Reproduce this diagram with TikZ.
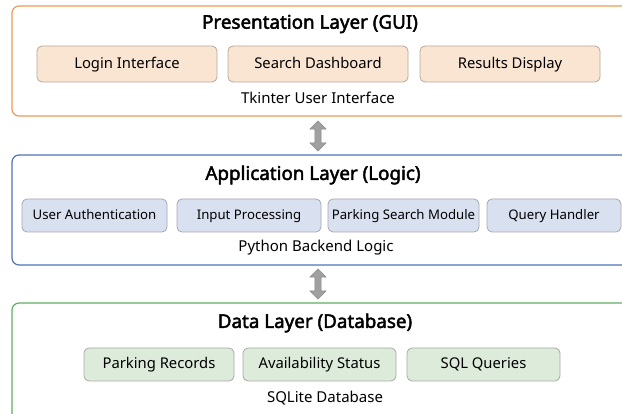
\documentclass[tikz,border=0pt]{standalone}
\usepackage{fontspec}
\setmainfont{Noto Sans}[BoldFont={Noto Sans}, BoldFeatures={FakeBold=2.4}]
\usetikzlibrary{shapes.arrows}

\definecolor{presline}{HTML}{EE9A57}
\definecolor{presfill}{HTML}{FAE5D3}
\definecolor{presedge}{HTML}{B8A89A}
\definecolor{appline}{HTML}{4F74B8}
\definecolor{appfill}{HTML}{D9E0F0}
\definecolor{appedge}{HTML}{A2A8B4}
\definecolor{dataline}{HTML}{62AE62}
\definecolor{datafill}{HTML}{DDEBDB}
\definecolor{dataedge}{HTML}{A4ADA2}
\definecolor{arrowgray}{HTML}{A0A0A0}

\tikzset{
  layer/.style={draw, line width=1.2pt, fill=white, rounded corners=7pt,
    minimum height=110pt, inner sep=0pt},
  comp/.style={draw, line width=0.8pt, rounded corners=5pt, inner sep=0pt,
    text height=0.85em, text depth=0em,
    font=\fontsize{14.8}{17}\selectfont},
  ltitle/.style={font=\fontsize{18.8}{21}\selectfont\bfseries},
  caption/.style={font=\fontsize{15}{17}\selectfont},
  linkarrow/.style={double arrow, rotate=90, fill=arrowgray, draw=arrowgray!85!black,
    line width=0.5pt, minimum height=30pt, inner sep=2.8pt,
    double arrow head extend=5pt, double arrow tip angle=90},
}

\begin{document}
\begin{tikzpicture}[x=1pt, y=-1pt]
\clip (0,0) rectangle (622,414);
\fill[white] (0,0) rectangle (622,414);

% Presentation layer
\node[layer, draw=presline, minimum width=628pt] (pres) at (326,61) {};
\node[ltitle] (prestitle) at (310,24) {Presentation Layer (GUI)};
\tikzset{pcomp/.style={comp, fill=presfill, draw=presedge, minimum width=180pt, minimum height=36pt}}
\node[pcomp] (login) at (127,64) {Login Interface};
\node[pcomp] (search) at (318,64) {Search Dashboard};
\node[pcomp] (results) at (510,64) {Results Display};
\node[caption] (prescap) at (318,98) {Tkinter User Interface};

% Application layer
\node[layer, draw=appline, minimum width=628pt] (app) at (326,210) {};
\node[ltitle] (apptitle) at (313,175) {Application Layer (Logic)};
\tikzset{acomp/.style={comp, fill=appfill, draw=appedge, minimum height=33pt,
    font=\fontsize{13.2}{15}\selectfont}}
\node[acomp, minimum width=145pt] (auth) at (94.5,215.5) {User Authentication};
\node[acomp, minimum width=144pt] (input) at (249,215.5) {Input Processing};
\node[acomp, minimum width=151pt] (psearch) at (403.5,215.5) {Parking Search Module};
\node[acomp, minimum width=134pt] (query) at (554,215.5) {Query Handler};
\node[caption] (appcap) at (316,248) {Python Backend Logic};

% Data layer
\node[layer, draw=dataline, minimum width=628pt, minimum height=130pt] (data) at (326,368) {};
\node[ltitle] (datatitle) at (315,323) {Data Layer (Database)};
\tikzset{dcomp/.style={comp, fill=datafill, draw=dataedge, minimum height=33pt}}
\node[dcomp, minimum width=150pt] (records) at (159,364.5) {Parking Records};
\node[dcomp, minimum width=153pt] (avail) at (319.5,364.5) {Availability Status};
\node[dcomp, minimum width=153pt] (sql) at (483.5,364.5) {SQL Queries};
\node[caption] (datacap) at (325,398) {SQLite Database};

% Links between layers
\node[linkarrow] (link1) at (318,136) {};
\node[linkarrow] (link2) at (318,284) {};
\end{tikzpicture}
\end{document}
